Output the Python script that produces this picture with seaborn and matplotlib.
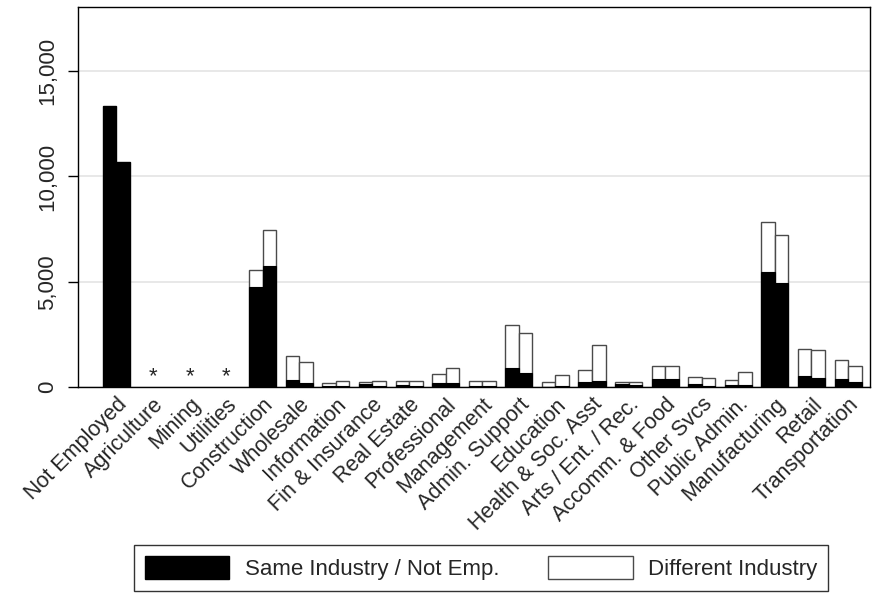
import pandas as pd
import numpy as np
import matplotlib
matplotlib.use("Agg")
import matplotlib.pyplot as plt
from matplotlib.patches import Patch
import seaborn as sns

industries = [
    'Not Employed', 'Agriculture', 'Mining', 'Utilities', 'Construction',
    'Wholesale', 'Information', 'Fin & Insurance', 'Real Estate', 'Professional',
    'Management', 'Admin. Support', 'Education', 'Health & Soc. Asst',
    'Arts / Ent. / Rec.', 'Accomm. & Food', 'Other Svcs', 'Public Admin.',
    'Manufacturing', 'Retail', 'Transportation'
]
suppressed = ['Agriculture', 'Mining', 'Utilities']

# first bar of each pair
same_1 = [13330, np.nan, np.nan, np.nan, 4750, 313, 40, 120, 100, 200,
          40, 885, 20, 219, 157, 380, 160, 110, 5443, 503, 380]
total_1 = [13330, np.nan, np.nan, np.nan, 5540, 1472, 210, 240, 270, 600,
           270, 2960, 237, 808, 219, 979, 475, 340, 7852, 1805, 1264]
# second bar of each pair
same_2 = [10700, np.nan, np.nan, np.nan, 5730, 190, 30, 50, 40, 180,
          30, 665, 30, 266, 100, 360, 50, 90, 4940, 442, 238]
total_2 = [10700, np.nan, np.nan, np.nan, 7470, 1188, 285, 285, 270, 920,
           270, 2565, 570, 1976, 252, 979, 430, 700, 7234, 1772, 1012]

df = pd.concat([
    pd.DataFrame({'industry': industries, 'group': 'first', 'same': same_1, 'total': total_1}),
    pd.DataFrame({'industry': industries, 'group': 'second', 'same': same_2, 'total': total_2}),
], ignore_index=True)

sns.set_style("white")
plt.rcParams['font.family'] = ['Liberation Sans', 'DejaVu Sans']

fig, ax = plt.subplots(figsize=(8.78, 6.06), dpi=100)
fig.subplots_adjust(left=78 / 878, right=870 / 878, top=1 - 7 / 606, bottom=1 - 387 / 606)

sns.barplot(data=df, x='industry', y='total', hue='group', order=industries,
            hue_order=['first', 'second'], palette=['white', 'white'],
            edgecolor='#4a4a4a', linewidth=1, width=0.74, errorbar=None,
            legend=False, ax=ax)
sns.barplot(data=df, x='industry', y='same', hue='group', order=industries,
            hue_order=['first', 'second'], palette=['black', 'black'],
            edgecolor='black', linewidth=0.8, width=0.74, errorbar=None,
            legend=False, ax=ax)

for name in suppressed:
    ax.text(industries.index(name), 480, '*', ha='center', va='center', fontsize=16)

ax.set_xlim(-1.05, 20.6)
ax.set_ylim(0, 18050)
ax.set_yticks([0, 5000, 10000, 15000])
ax.set_yticklabels(['0', '5,000', '10,000', '15,000'], rotation=90, va='center', fontsize=16)
ax.set_xticks(range(len(industries)))
ax.set_xticklabels(industries, rotation=45, ha='right', rotation_mode='anchor', fontsize=15.5)
ax.tick_params(axis='x', length=0, pad=5)
ax.tick_params(axis='y', length=7, width=1, color='black', pad=7, left=True)
ax.set_xlabel('')
ax.set_ylabel('')
ax.yaxis.grid(True, color='#e4e4e4', linewidth=1.2)
ax.set_axisbelow(True)
for sp in ax.spines.values():
    sp.set_color('black')
    sp.set_linewidth(1)

handles = [Patch(facecolor='black', edgecolor='black', label='Same Industry / Not Emp.'),
           Patch(facecolor='white', edgecolor='#4a4a4a', label='Different Industry')]
leg = fig.legend(handles=handles, loc='center', bbox_to_anchor=(481 / 878, 1 - 568 / 606),
                 ncol=2, frameon=True, fancybox=False, edgecolor='black', fontsize=16,
                 handlelength=3.8, handleheight=1.2, handletextpad=0.7, columnspacing=2.2,
                 borderpad=0.5)
leg.get_frame().set_linewidth(1)

plt.savefig('out.png', dpi=100)
